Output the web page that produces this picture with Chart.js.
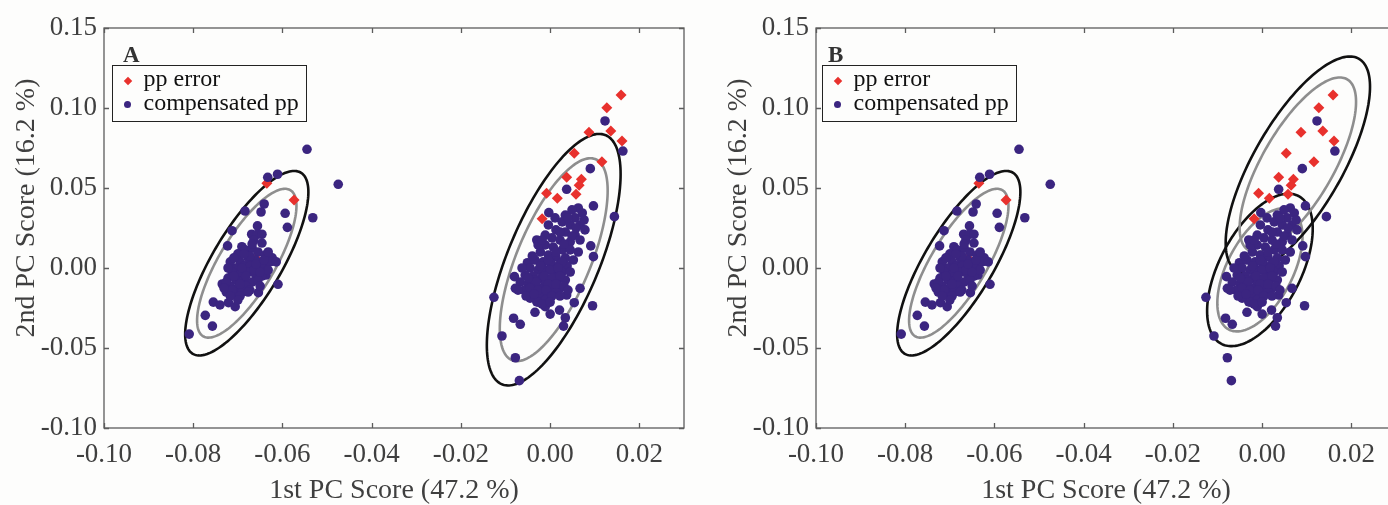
<!DOCTYPE html>
<html>
<head>
<meta charset="utf-8">
<script src="https://cdn.jsdelivr.net/npm/chart.js@4.4.1/dist/chart.umd.min.js"></script>
<style>
  html, body { margin: 0; padding: 0; background: #fdfdfc; }
  body { width: 1388px; height: 505px; overflow: hidden; position: relative; font-family: "Liberation Serif", "Times New Roman", serif; }
  .panel { position: absolute; top: 0; width: 700px; height: 505px; }
  .panel canvas { position: absolute; left: 0; top: 0; }
  .tag { position: absolute; top: 43px; font-size: 23px; line-height: 23px; font-weight: bold; color: #333; }
  .legend { position: absolute; top: 65px; width: 195px; height: 57px; box-sizing: border-box; border: 1.5px solid #222;
            background: #fdfdfc; font-size: 24px; line-height: 24px; color: #111; }
  .legend .row { position: relative; height: 24px; padding-left: 30.5px; white-space: nowrap; }
  .mk { position: absolute; }
  .mk.diamond { left: 11.5px; top: 11.5px; width: 6px; height: 6px; background: #e8312d; transform: rotate(45deg); }
  .mk.dot { left: 11px; top: 11px; width: 7px; height: 7px; border-radius: 50%; background: #3b2580; }
</style>
</head>
<body>

<div class="panel" style="left:0px">
  <canvas id="chartA" width="700" height="505"></canvas>
  <div class="tag" style="left:123px">A</div>
  <div class="legend" style="left:112px">
    <div class="row"><span class="mk diamond"></span>pp error</div>
    <div class="row"><span class="mk dot"></span>compensated pp</div>
  </div>
</div>

<div class="panel" style="left:712px">
  <canvas id="chartB" width="700" height="505"></canvas>
  <div class="tag" style="left:116px">B</div>
  <div class="legend" style="left:110px">
    <div class="row"><span class="mk diamond"></span>pp error</div>
    <div class="row"><span class="mk dot"></span>compensated pp</div>
  </div>
</div>

<script>
// =========================
// SCORES (PC1, PC2)
// =========================
const errX = [-0.0635, -0.0574, -0.0659,
    0.0159, 0.0127, 0.0136, 0.0087, 0.0161, 0.0054, 0.0116, 0.0037, 0.0070, 0.0065, -0.0008, 0.0016, 0.0058, -0.0018];
const errY = [0.0529, 0.0425, 0.0060,
    0.1081, 0.1002, 0.0856, 0.0848, 0.0794, 0.0717, 0.0664, 0.0567, 0.0554, 0.0517, 0.0467, 0.0436, 0.0461, 0.0308];

const compX = [
    // kelompok kiri
    -0.0545, -0.0475, -0.0633, -0.0611, -0.0641, -0.0684, -0.0648, -0.0594, -0.0532, -0.0656, -0.0589, -0.0713, -0.0669, -0.0656,
    -0.0646, -0.0723, -0.0691, -0.0637, -0.0610, -0.0654, -0.0755, -0.0740, -0.0721, -0.0706, -0.0773, -0.0757, -0.0809,
    -0.0684, -0.0668, -0.0655, -0.0639, -0.0623, -0.0646, -0.0661, -0.0677, -0.0695, -0.0704, -0.0686, -0.0673, -0.0655, -0.0639,
    -0.0628, -0.0713, -0.0695, -0.0677, -0.0661, -0.0646, -0.0722, -0.0704, -0.0686, -0.0668, -0.0717, -0.0700, -0.0682, -0.0726,
    -0.0709, -0.0691, -0.0673, -0.0632, -0.0614, -0.0646, -0.0664, -0.0700, -0.0717, -0.0655, -0.0709, -0.0722, -0.0695, -0.0735,
    -0.0650,
    -0.0673, -0.0691, -0.0664, -0.0650, -0.0709, -0.0682, -0.0726, -0.0695, -0.0713, -0.0677, -0.0700, -0.0659, -0.0641, -0.0632,
    -0.0668, -0.0686, -0.0717, -0.0731,
    // kelompok kanan
    0.0123, 0.0163, 0.0090, 0.0037, 0.0097, 0.0144, -0.0003, -0.0030, 0.0091, 0.0097, -0.0051, -0.0080, -0.0078, -0.0126,
    0.0067, 0.0054, 0.0095, -0.0034, 0.0000, 0.0021, -0.0082, -0.0067, 0.0034, 0.0030, -0.0108, -0.0078, -0.0069, -0.0011,
    -0.0030, 0.0037,
    0.0063, 0.0049, 0.0034, 0.0056, 0.0072, 0.0011, 0.0027, 0.0045, 0.0067, -0.0004, 0.0013, 0.0034, 0.0056, 0.0078,
    0.0004, 0.0022, 0.0045, -0.0011, 0.0007, 0.0027, 0.0045, 0.0063, -0.0022, -0.0004, 0.0013, 0.0034, 0.0052, -0.0034,
    -0.0016, 0.0002, 0.0020, 0.0038, -0.0045, -0.0027, -0.0009, 0.0009, 0.0027, 0.0045, -0.0056, -0.0038, -0.0020, -0.0002,
    0.0016, 0.0034, -0.0067, -0.0049, -0.0031, -0.0013, 0.0004, 0.0022, -0.0058, -0.0040, -0.0022, -0.0004, 0.0013, -0.0045,
    -0.0011, -0.0027, 0.0000, -0.0018, 0.0018, -0.0036, 0.0027, -0.0009,
    0.0000, 0.0018, -0.0013, 0.0004, 0.0022, -0.0031, -0.0004, 0.0013, 0.0031, -0.0045, -0.0027, -0.0009, -0.0054, -0.0036,
    0.0004, 0.0022, 0.0040, -0.0022, -0.0004, 0.0013, 0.0031, 0.0049, 0.0067, 0.0022, 0.0040, 0.0058, 0.0076, -0.0011,
    -0.0027, -0.0040, -0.0018, -0.0063, -0.0049, -0.0072, -0.0018, 0.0000
];
const compY = [
    0.0742, 0.0523, 0.0567, 0.0586, 0.0400, 0.0356, 0.0350, 0.0342, 0.0314, 0.0263, 0.0254, 0.0233, 0.0211, 0.0211,
    0.0211, 0.0138, 0.0133, -0.0044, -0.0102, -0.0154, -0.0213, -0.0231, -0.0217, -0.0242, -0.0296, -0.0363, -0.0413,
    0.0113, 0.0125, 0.0100, 0.0081, 0.0063, 0.0038, 0.0050, 0.0063, 0.0038, 0.0000, 0.0013, 0.0013, 0.0000, 0.0013,
    0.0038, -0.0025, -0.0038, -0.0025, -0.0038, -0.0050, -0.0063, -0.0075, -0.0075, -0.0088, -0.0113, -0.0125, -0.0113, -0.0150,
    -0.0163, -0.0150, -0.0138, -0.0013, 0.0038, 0.0156, 0.0175, 0.0088, 0.0038, -0.0075, 0.0063, 0.0000, -0.0175, -0.0100,
    -0.0113,
    0.0075, 0.0000, -0.0013, -0.0025, -0.0050, -0.0050, -0.0088, -0.0100, -0.0138, -0.0150, -0.0200, 0.0025, 0.0050, 0.0100,
    0.0150, 0.0088, -0.0175, -0.0125,
    0.0919, 0.0731, 0.0621, 0.0492, 0.0388, 0.0321, 0.0346, 0.0175, 0.0138, 0.0071, 0.0033, -0.0054, -0.0127, -0.0183,
    -0.0127, -0.0217, -0.0236, -0.0277, -0.0288, -0.0263, -0.0314, -0.0352, -0.0311, -0.0363, -0.0425, -0.0561, -0.0704, -0.0242,
    -0.0211, -0.0169,
    0.0375, 0.0363, 0.0331, 0.0313, 0.0344, 0.0313, 0.0288, 0.0269, 0.0269, 0.0269, 0.0238, 0.0225, 0.0206, 0.0238,
    0.0188, 0.0175, 0.0163, 0.0144, 0.0131, 0.0113, 0.0113, 0.0100, 0.0100, 0.0081, 0.0069, 0.0063, 0.0050, 0.0050,
    0.0038, 0.0025, 0.0019, 0.0013, 0.0000, -0.0013, -0.0013, -0.0025, -0.0025, -0.0025, -0.0044, -0.0050, -0.0063, -0.0075,
    -0.0075, -0.0075, -0.0088, -0.0100, -0.0113, -0.0113, -0.0125, -0.0125, -0.0138, -0.0150, -0.0163, -0.0163, -0.0150, -0.0188,
    -0.0200, -0.0213, 0.0038, 0.0000, -0.0050, -0.0075, 0.0038, -0.0088,
    -0.0013, 0.0000, -0.0050, -0.0063, -0.0050, -0.0088, -0.0100, -0.0100, -0.0113, -0.0125, -0.0138, -0.0138, -0.0175, -0.0163,
    -0.0175, -0.0175, -0.0138, 0.0013, 0.0050, 0.0100, 0.0150, 0.0200, 0.0175, 0.0225, 0.0313, 0.0250, 0.0300, 0.0206,
    0.0144, 0.0075, 0.0175, 0.0000, -0.0063, -0.0138, -0.0225, -0.0213
];

// sumbu
const xTicks = [-0.10, -0.08, -0.06, -0.04, -0.02, 0.00, 0.02];
const yTicks = [-0.10, -0.05, 0.00, 0.05, 0.10, 0.15];
const xTitle = "1st PC Score (47.2 %)";
const yTitle = "2nd PC Score (16.2 %)";

// elips kepercayaan: pusat, simpangan baku, korelasi
const ellipsesA = [
    { cx: -0.0680, cy: 0.0030, sx: 0.00455, sy: 0.0190, r: 0.77 },
    { cx: 0.0008, cy: 0.0052, sx: 0.00494, sy: 0.0259, r: 0.68 }
];
const ellipsesB = [
    { cx: -0.0680, cy: 0.0030, sx: 0.00455, sy: 0.0190, r: 0.77 },
    { cx: -0.0005, cy: -0.0012, sx: 0.0039, sy: 0.0157, r: 0.54 },
    { cx: 0.0080, cy: 0.0645, sx: 0.00533, sy: 0.0223, r: 0.72 }
];

// 95 % (abu-abu) dan 99 % (hitam), chi-square 2 dof
const levels = [
    { k: Math.sqrt(5.991), color: "#8e8e8e" },
    { k: Math.sqrt(9.210), color: "#111111" }
];

const FONT = "'Liberation Serif', 'Times New Roman', serif";
const AXIS_COLOR = "#3f3f3f";

function toPoints(xs, ys) {
    return xs.map((x, i) => ({ x: x, y: ys[i] }));
}

// =========================
// PLUGIN: elips, bingkai, judul sumbu Y
// =========================
const pcaFrame = {
    id: "pcaFrame",
    beforeDatasetsDraw(chart, args, opts) {
        const ctx = chart.ctx;
        const area = chart.chartArea;
        const xs = chart.scales.x, ys = chart.scales.y;
        ctx.save();
        ctx.beginPath();
        ctx.rect(area.left, area.top, area.right - area.left, area.bottom - area.top);
        ctx.clip();
        ctx.lineWidth = 2.6;
        opts.ellipses.forEach(e => {
            levels.forEach(lv => {
                ctx.strokeStyle = lv.color;
                ctx.beginPath();
                const q = Math.sqrt(1 - e.r * e.r);
                for (let i = 0; i <= 180; i++) {
                    const t = i / 180 * Math.PI * 2;
                    const vx = e.cx + lv.k * e.sx * Math.cos(t);
                    const vy = e.cy + lv.k * e.sy * (e.r * Math.cos(t) + q * Math.sin(t));
                    const px = xs.getPixelForValue(vx), py = ys.getPixelForValue(vy);
                    if (i === 0) ctx.moveTo(px, py); else ctx.lineTo(px, py);
                }
                ctx.closePath();
                ctx.stroke();
            });
        });
        ctx.restore();
    },
    afterDraw(chart, args, opts) {
        const ctx = chart.ctx;
        const a = chart.chartArea;
        const xs = chart.scales.x, ys = chart.scales.y;
        ctx.save();
        ctx.strokeStyle = "#5c5c5c";
        ctx.lineWidth = 1.3;
        ctx.strokeRect(a.left, a.top, a.right - a.left, a.bottom - a.top);

        // tick ke dalam di keempat sisi
        ctx.beginPath();
        xs.ticks.forEach(t => {
            const px = Math.round(xs.getPixelForValue(t.value)) + 0.5;
            ctx.moveTo(px, a.bottom); ctx.lineTo(px, a.bottom - 5);
            ctx.moveTo(px, a.top); ctx.lineTo(px, a.top + 5);
        });
        ys.ticks.forEach(t => {
            const py = Math.round(ys.getPixelForValue(t.value)) + 0.5;
            ctx.moveTo(a.left, py); ctx.lineTo(a.left + 5, py);
            ctx.moveTo(a.right, py); ctx.lineTo(a.right - 5, py);
        });
        ctx.stroke();

        // judul sumbu Y
        ctx.translate(a.left - 77, a.top + 180);
        ctx.rotate(-Math.PI / 2);
        ctx.fillStyle = AXIS_COLOR;
        ctx.font = "28px " + FONT;
        ctx.textAlign = "center";
        ctx.textBaseline = "middle";
        ctx.fillText(opts.yTitle, 0, 0);
        ctx.restore();
    }
};

// =========================
// SCATTER PCA
// =========================
function makePanel(canvasId, ellipses) {
    const ctx = document.getElementById(canvasId).getContext("2d");
    return new Chart(ctx, {
        type: "scatter",
        data: {
            datasets: [{
                label: "compensated pp",
                data: toPoints(compX, compY),
                backgroundColor: "#3b2580",
                pointStyle: "circle",
                pointRadius: 4.8,
                borderWidth: 0,
                order: 0
            }, {
                label: "pp error",
                data: toPoints(errX, errY),
                backgroundColor: "#e8312d",
                pointStyle: "rectRot",
                pointRadius: 5.5,
                borderWidth: 0,
                order: 1
            }]
        },
        options: {
            responsive: false,
            animation: false,
            events: [],
            layout: { padding: { top: 28, right: 16, bottom: 0, left: 0 } },
            scales: {
                x: {
                    type: "linear",
                    min: -0.10,
                    max: 0.03,
                    afterBuildTicks: s => { s.ticks = xTicks.map(v => ({ value: v })); },
                    afterFit: s => { s.height = 77; },
                    grid: { display: false, drawTicks: false },
                    border: { display: false },
                    ticks: {
                        padding: 11,
                        color: AXIS_COLOR,
                        font: { family: FONT, size: 27 },
                        callback: v => Number(v).toFixed(2),
                        maxRotation: 0
                    },
                    title: {
                        display: true,
                        text: xTitle,
                        color: AXIS_COLOR,
                        padding: 0,
                        font: { family: FONT, size: 28, lineHeight: 1 }
                    }
                },
                y: {
                    type: "linear",
                    min: -0.10,
                    max: 0.15,
                    afterBuildTicks: s => { s.ticks = yTicks.map(v => ({ value: v })); },
                    afterFit: s => { s.width = 104; },
                    grid: { display: false, drawTicks: false },
                    border: { display: false },
                    ticks: {
                        padding: 7,
                        color: AXIS_COLOR,
                        font: { family: FONT, size: 27 },
                        callback: v => Number(v).toFixed(2)
                    }
                }
            },
            plugins: {
                legend: { display: false },
                tooltip: { enabled: false },
                pcaFrame: { ellipses: ellipses, yTitle: yTitle }
            }
        },
        plugins: [pcaFrame]
    });
}

makePanel("chartA", ellipsesA);
makePanel("chartB", ellipsesB);
</script>
</body>
</html>
